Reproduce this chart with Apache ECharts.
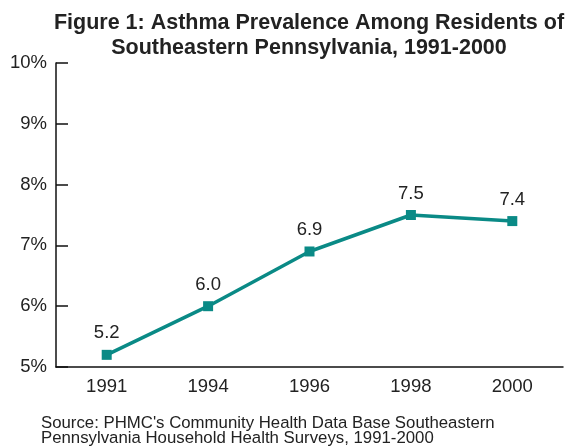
<!DOCTYPE html>
<html><head><meta charset="utf-8">
<script src="https://cdn.jsdelivr.net/npm/echarts@6/dist/echarts.min.js"></script>
<style>html,body{margin:0;padding:0;background:#fff}#c{width:571px;height:446px}</style>
</head><body><div id="c"></div>
<script>
const categories = ['1991','1994','1996','1998','2000'];
const prevalence = [5.2, 6.0, 6.9, 7.5, 7.4];
const yTicks = [5, 6, 7, 8, 9, 10];
const titleText = 'Figure 1: Asthma Prevalence Among Residents of\nSoutheastern Pennsylvania, 1991-2000';
const sourceText = "Source: PHMC's Community Health Data Base Southeastern\nPennsylvania Household Health Surveys, 1991-2000";

const chart = echarts.init(document.getElementById('c'));
const font = '"Liberation Sans", Arial, sans-serif';
chart.setOption({
  animation: false,
  backgroundColor: '#fff',
  title: {
    text: titleText,
    left: 304, top: 6, textAlign: 'center',
    textStyle: {fontFamily: font, fontSize: 21.5, fontWeight: 'bold', color: '#222', lineHeight: 25}
  },
  graphic: [{
    type: 'text', left: 41, top: 415,
    style: {text: sourceText, font: '16.8px ' + font, fill: '#222', lineHeight: 14.5}
  }],
  grid: {left: 56, right: 8, top: 63, bottom: 79},
  xAxis: {
    type: 'category', data: categories, boundaryGap: true,
    axisLine: {lineStyle: {color: '#111', width: 1.5}},
    axisTick: {inside: true, length: 6, lineStyle: {color: '#111', width: 1.5}},
    axisLabel: {fontFamily: font, fontSize: 18.5, color: '#222', margin: 10}
  },
  yAxis: {
    type: 'value', min: yTicks[0], max: yTicks[yTicks.length-1], interval: 1,
    splitLine: {show: false},
    axisLine: {show: true, lineStyle: {color: '#111', width: 1.5}},
    axisTick: {show: true, inside: true, length: 12, lineStyle: {color: '#111', width: 1.5}},
    axisLabel: {fontFamily: font, fontSize: 18.5, color: '#222', margin: 9, formatter: '{value}%'}
  },
  series: [{
    type: 'line', data: prevalence,
    symbol: 'rect', symbolSize: 10,
    lineStyle: {color: '#0a8a86', width: 3.5},
    itemStyle: {color: '#0a8a86'},
    label: {show: true, position: 'top', distance: 7, fontFamily: font, fontSize: 18.5, color: '#222',
      formatter: p => p.value.toFixed(1)}
  }]
});
</script></body></html>
